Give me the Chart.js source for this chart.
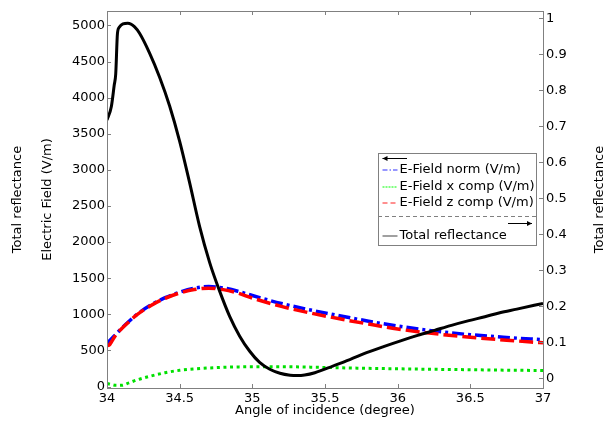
<!DOCTYPE html>
<html>
<head>
<meta charset="utf-8">
<script src="https://cdn.jsdelivr.net/npm/chart.js@4"></script>
<style>
  html, body { margin: 0; padding: 0; background: #fff; }
  #caixa { width: 608px; height: 421px; }
</style>
</head>
<body>
<div id="caixa"><canvas id="grafico"></canvas></div>
<script>
// valores
const angulos = [34.0, 34.015, 34.03, 34.06, 34.1, 34.15, 34.2, 34.3, 34.4, 34.5, 34.6, 34.7, 34.8, 34.9, 35.0, 35.2, 35.4, 35.6, 35.8, 36.0, 36.25, 36.5, 36.75, 37.0];
const campoNorma = [595, 627, 660, 722, 805, 900, 990, 1127, 1230, 1306, 1360, 1384, 1365, 1320, 1260, 1150, 1060, 980, 905, 838, 770, 718, 680, 648];
const campoX = [42, 35, 28, 17, 17, 50, 88, 145, 192, 225, 244, 257, 266, 272, 275, 275, 269, 260, 252, 246, 239, 233, 227, 222];
const campoZ = [568, 575, 618, 712, 800, 895, 985, 1120, 1222, 1295, 1343, 1362, 1342, 1295, 1225, 1110, 1018, 938, 865, 797, 733, 683, 642, 605];

const angulosR = [34.0, 34.03, 34.05, 34.06, 34.072, 34.085, 34.11, 34.143, 34.19, 34.224, 34.293, 34.362, 34.431, 34.5, 34.568, 34.637, 34.706, 34.775, 34.844, 34.913, 34.982, 35.05, 35.12, 35.19, 35.26, 35.31, 35.36, 35.43, 35.554, 35.671, 35.786, 35.903, 36.02, 36.137, 36.254, 36.37, 36.49, 36.6, 36.703, 36.82, 37.0];
const refletancia = [0.717, 0.755, 0.815, 0.845, 0.958, 0.975, 0.984, 0.986, 0.976, 0.958, 0.903, 0.836, 0.756, 0.658, 0.544, 0.422, 0.322, 0.242, 0.172, 0.117, 0.075, 0.044, 0.025, 0.014, 0.0085, 0.0075, 0.009, 0.0155, 0.034, 0.052, 0.071, 0.088, 0.104, 0.119, 0.133, 0.147, 0.16, 0.171, 0.182, 0.192, 0.208];

const ticksX = [34, 34.5, 35, 35.5, 36, 36.5, 37];
const rotulosX = ['34', '34.5', '35', '35.5', '36', '36.5', '37'];
const ticksE = [0, 500, 1000, 1500, 2000, 2500, 3000, 3500, 4000, 4500, 5000];
const rotulosE = ['0', '500', '1000', '1500', '2000', '2500', '3000', '3500', '4000', '4500', '5000'];
const ticksR = [0, 0.1, 0.2, 0.3, 0.4, 0.5, 0.6, 0.7, 0.8, 0.9, 1];
const rotulosR = ['0', '0.1', '0.2', '0.3', '0.4', '0.5', '0.6', '0.7', '0.8', '0.9', '1'];

function pontos(xs, ys) {
  return xs.map((x, i) => ({x: x, y: ys[i]}));
}

Chart.defaults.font.family = 'DejaVu Sans';
Chart.defaults.font.size = 13;
Chart.defaults.color = '#000';

const cinza = '#808080';

// moldura, marcas internas, legenda e titulo da direita
const extras = {
  id: 'extras',
  afterDraw(chart) {
    const ctx = chart.ctx;
    const a = chart.chartArea;
    const sx = chart.scales.x, se = chart.scales.y, sr = chart.scales.y2;
    ctx.save();
    ctx.strokeStyle = cinza;
    ctx.lineWidth = 1;
    ctx.setLineDash([]);
    ctx.strokeRect(Math.round(a.left) + 0.5, Math.round(a.top) + 0.5, Math.round(a.right - a.left), Math.round(a.bottom - a.top));
    ctx.beginPath();
    ticksX.forEach(v => {
      const p = Math.round(sx.getPixelForValue(v)) + 0.5;
      ctx.moveTo(p, a.bottom); ctx.lineTo(p, a.bottom - 4);
      ctx.moveTo(p, a.top); ctx.lineTo(p, a.top + 4);
    });
    ticksE.forEach(v => {
      const p = Math.round(se.getPixelForValue(v)) + 0.5;
      ctx.moveTo(a.left, p); ctx.lineTo(a.left + 4, p);
    });
    ticksR.forEach(v => {
      const p = Math.round(sr.getPixelForValue(v)) + 0.5;
      ctx.moveTo(a.right, p); ctx.lineTo(a.right - 4, p);
    });
    ctx.stroke();

    // legenda
    const L = a.right - 165, T = 153;
    ctx.fillStyle = '#fff';
    ctx.fillRect(L, T, 158, 92);
    ctx.strokeStyle = cinza;
    ctx.strokeRect(L + 0.5, T + 0.5, 158, 92);
    ctx.beginPath();
    ctx.setLineDash([4, 3]);
    ctx.moveTo(L, T + 63.5); ctx.lineTo(L + 158, T + 63.5);
    ctx.stroke();
    ctx.setLineDash([]);

    function seta(x1, x2, y) {
      ctx.strokeStyle = '#000';
      ctx.fillStyle = '#000';
      ctx.lineWidth = 1;
      ctx.beginPath();
      ctx.moveTo(x1, y); ctx.lineTo(x2, y);
      ctx.stroke();
      const d = x2 > x1 ? 1 : -1;
      ctx.beginPath();
      ctx.moveTo(x2, y); ctx.lineTo(x2 - d * 5, y - 2.5); ctx.lineTo(x2 - d * 5, y + 2.5);
      ctx.closePath();
      ctx.fill();
    }
    seta(L + 29, L + 4.5, T + 5.5);
    seta(L + 130, L + 154, T + 70.5);

    const linhas = [
      {ds: chart.data.datasets[0], y: T + 17, dash: [5, 2, 1.5, 2], cor: '#3030ff', w: 1.2},
      {ds: chart.data.datasets[1], y: T + 33.5, dash: [2, 1], cor: '#00ff00', w: 1.2},
      {ds: chart.data.datasets[2], y: T + 50, dash: [5, 3], cor: '#ff2020', w: 1.2},
      {ds: chart.data.datasets[3], y: T + 82.5, dash: [], cor: '#a0a0a0', w: 2}
    ];
    ctx.font = '13px "DejaVu Sans"';
    ctx.textBaseline = 'middle';
    ctx.textAlign = 'left';
    linhas.forEach(l => {
      ctx.strokeStyle = l.cor;
      ctx.lineWidth = l.w;
      ctx.setLineDash(l.dash);
      ctx.beginPath();
      ctx.moveTo(L + 4.5, Math.round(l.y)); ctx.lineTo(L + 19.5, Math.round(l.y));
      ctx.stroke();
      ctx.fillStyle = '#000';
      ctx.fillText(l.ds.label, L + 21.5, l.y);
    });
    ctx.setLineDash([]);

    // titulo do eixo da direita, lido de baixo para cima
    ctx.translate(600, (a.top + a.bottom) / 2);
    ctx.rotate(-Math.PI / 2);
    ctx.textAlign = 'center';
    ctx.fillText('Total reflectance', 0, 0);
    ctx.restore();
  }
};

new Chart(document.getElementById('grafico'), {
  type: 'line',
  data: {
    datasets: [{
      label: 'E-Field norm (V/m)',
      data: pontos(angulos, campoNorma),
      borderColor: '#0000ff',
      borderWidth: 3.5,
      borderDash: [12, 4, 3, 4],
      yAxisID: 'y',
      order: 2
    }, {
      label: 'E-Field x comp (V/m)',
      data: pontos(angulos, campoX),
      borderColor: '#00e000',
      borderWidth: 3,
      borderDash: [3, 3.6],
      yAxisID: 'y',
      order: 3
    }, {
      label: 'E-Field z comp (V/m)',
      data: pontos(angulos, campoZ),
      borderColor: '#ff0000',
      borderWidth: 3.5,
      borderDash: [14, 5],
      yAxisID: 'y',
      order: 1
    }, {
      label: 'Total reflectance',
      data: pontos(angulosR, refletancia),
      borderColor: '#000000',
      borderWidth: 3,
      yAxisID: 'y2',
      order: 0
    }]
  },
  options: {
    responsive: true,
    maintainAspectRatio: false,
    animation: false,
    devicePixelRatio: 1,
    layout: {padding: {left: 0, right: 0, top: 11, bottom: 0}},
    elements: {
      point: {radius: 0},
      line: {fill: false, cubicInterpolationMode: 'monotone', borderCapStyle: 'butt', borderJoinStyle: 'round'}
    },
    plugins: {legend: {display: false}, tooltip: {enabled: false}},
    scales: {
      x: {
        type: 'linear',
        min: 34, max: 37,
        grid: {display: false, drawTicks: false},
        border: {display: false},
        afterBuildTicks: s => { s.ticks = ticksX.map(v => ({value: v})); },
        afterFit: s => { s.height = 33; },
        ticks: {padding: 3, maxRotation: 0, autoSkip: false, callback: (v, i) => rotulosX[i]},
        title: {display: true, text: 'Angle of incidence (degree)', padding: {top: 0, bottom: 3}}
      },
      y: {
        type: 'linear',
        position: 'left',
        min: -20, max: 5200,
        grid: {display: false, drawTicks: false},
        border: {display: false},
        afterBuildTicks: s => { s.ticks = ticksE.map(v => ({value: v})); },
        afterFit: s => { s.width = 107; },
        ticks: {padding: 2, autoSkip: false, callback: (v, i) => rotulosE[i]},
        title: {
          display: true,
          text: ['Total reflectance', 'Electric Field (V/m)'],
          font: {lineHeight: '30px'},
          padding: {top: 3, bottom: 0}
        }
      },
      y2: {
        type: 'linear',
        position: 'right',
        min: -0.027, max: 1.02,
        grid: {display: false, drawTicks: false},
        border: {display: false},
        afterBuildTicks: s => { s.ticks = ticksR.map(v => ({value: v})); },
        afterFit: s => { s.width = 65; },
        ticks: {padding: 3, autoSkip: false, callback: (v, i) => rotulosR[i]}
      }
    }
  },
  plugins: [extras]
});
</script>
</body>
</html>
